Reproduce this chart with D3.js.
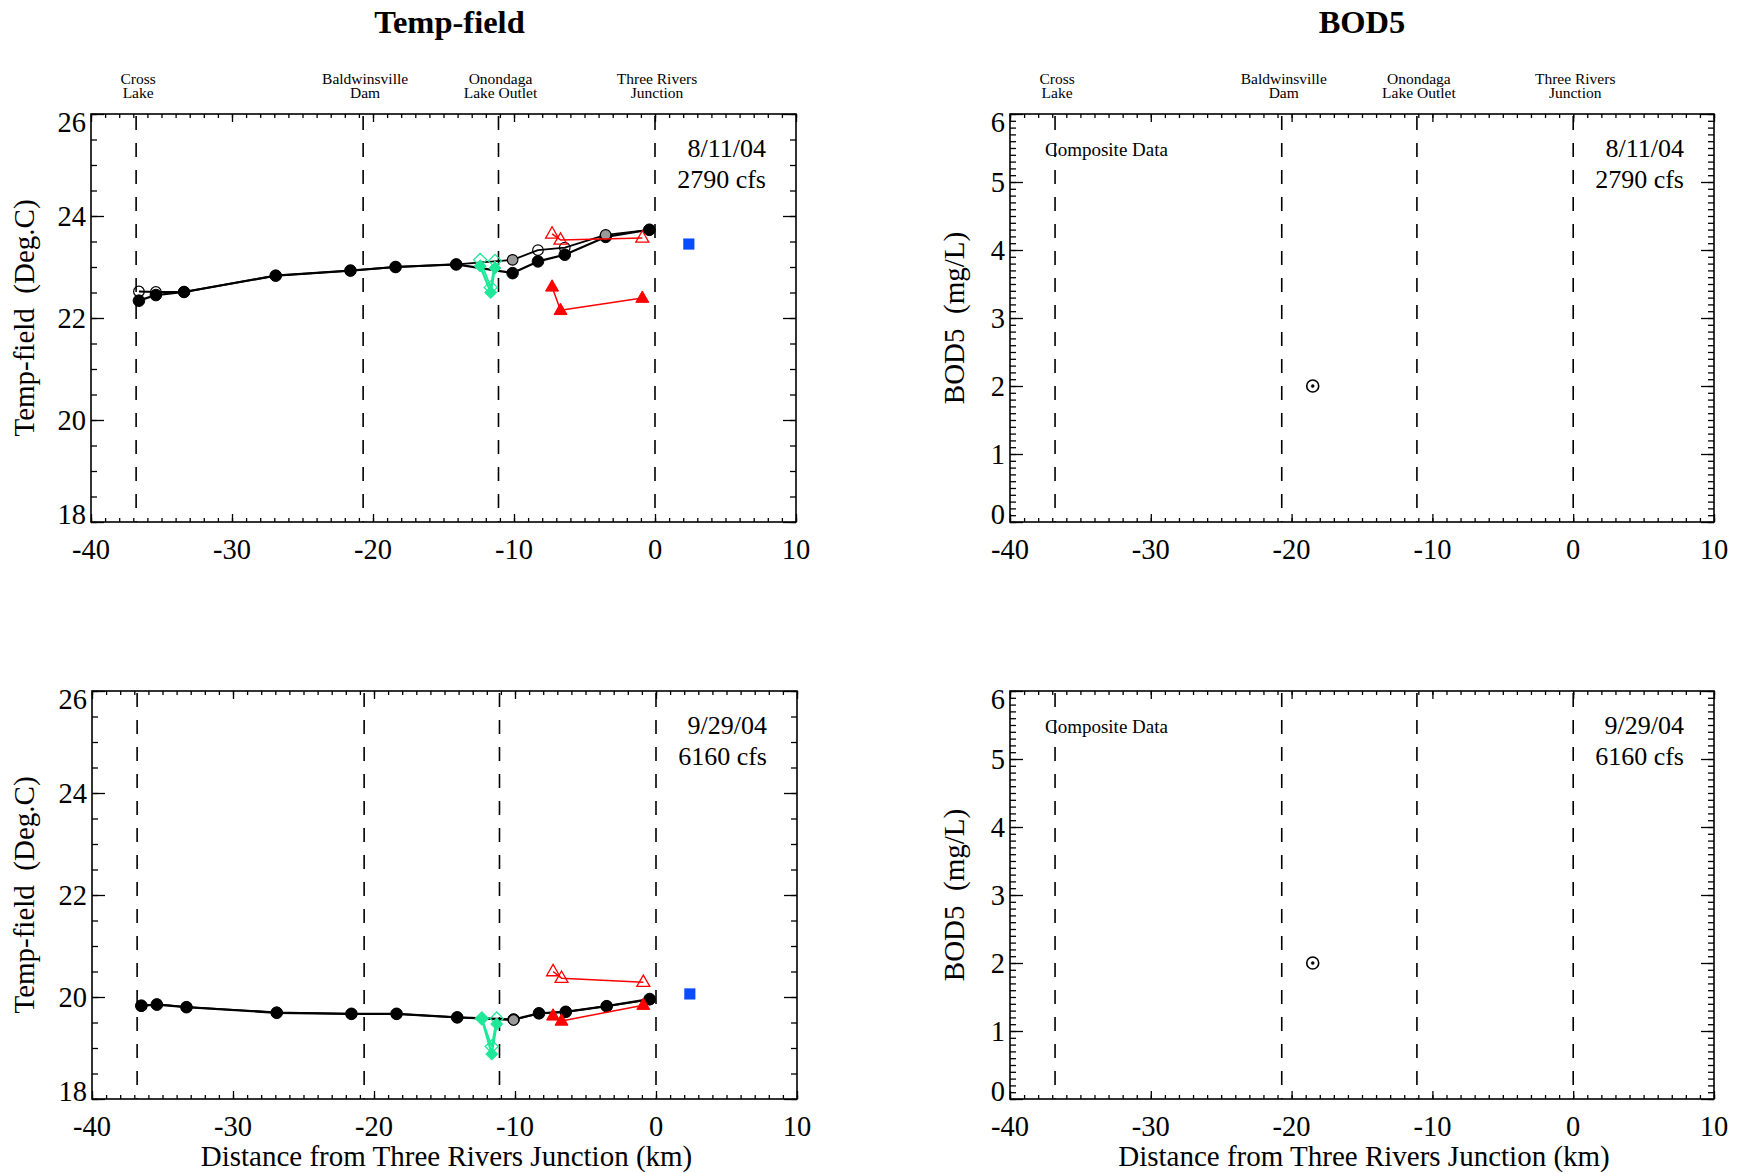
<!DOCTYPE html>
<html>
<head>
<meta charset="utf-8">
<script src="https://cdn.jsdelivr.net/npm/d3@7"></script>
<style>
  html, body { margin: 0; padding: 0; background: #fff; }
  text { font-family: "Liberation Serif", "Times New Roman", serif; fill: #000; }
</style>
</head>
<body>
<svg id="chart" width="1743" height="1173"></svg>
<script>
// ---------------- DATA ----------------
const xTicks = [-40, -30, -20, -10, 0, 10];
const tempTicks = [18, 20, 22, 24, 26];
const bodTicks = [0, 1, 2, 3, 4, 5, 6];
const landmarkNames = [["Cross", "Lake"], ["Baldwinsville", "Dam"], ["Onondaga", "Lake Outlet"], ["Three Rivers", "Junction"]];
const landmarkKm = [-36.8, -20.7, -11.1, 0];

// 8/11/04 temperature
const augMainKm   = [-36.6, -35.4, -33.4, -26.9, -21.6, -18.4, -14.1, -10.1, -8.3, -6.4, -3.5, -0.4];
const augMainTemp = [22.34, 22.45, 22.51, 22.83, 22.93, 23.00, 23.05, 22.88, 23.11, 23.24, 23.59, 23.73];
const augRepKm    = [-36.6, -35.4, -33.4, -26.9, -21.6, -18.4, -14.1, -10.1, -8.3, -6.4, -3.5, -0.4];
const augRepTemp  = [22.52, 22.51, 22.51, 22.83, 22.93, 23.00, 23.05, 23.14, 23.33, 23.38, 23.63, 23.73];
const augRepFill  = ["open", "open", "open", "open", "open", "open", "open", "gray", "open", "open", "gray", "open"];
const augGreenKm       = [-12.4, -11.65, -11.35];
const augGreenFilled   = [23.02, 22.50, 22.98];
const augGreenOpen     = [23.14, 22.60, 23.12];
const augRedKm         = [-7.3, -6.7, -0.9];
const augRedOpen       = [23.65, 23.53, 23.57];
const augRedFilled     = [22.61, 22.15, 22.39];
const augBlueKm = [2.4];
const augBlueTemp = [23.45];

// 9/29/04 temperature
const sepMainKm   = [-36.5, -35.4, -33.3, -26.9, -21.6, -18.4, -14.1, -10.1, -8.3, -6.4, -3.5, -0.45];
const sepMainTemp = [19.83, 19.85, 19.80, 19.69, 19.67, 19.67, 19.60, 19.56, 19.68, 19.71, 19.82, 19.96];
const sepRepKm    = [-36.5, -35.4, -33.3, -26.9, -21.6, -18.4, -14.1, -10.1, -8.3, -6.4, -3.5, -0.45];
const sepRepTemp  = [19.82, 19.86, 19.80, 19.70, 19.67, 19.67, 19.60, 19.55, 19.68, 19.71, 19.82, 19.95];
const sepRepFill  = ["open", "open", "open", "open", "open", "open", "open", "gray", "open", "open", "open", "open"];
const sepGreenKm     = [-12.35, -11.65, -11.3];
const sepGreenFilled = [19.57, 18.88, 19.47];
const sepGreenOpen   = [19.58, 19.03, 19.58];
const sepRedKm       = [-7.3, -6.7, -0.9];
const sepRedOpen     = [20.50, 20.37, 20.29];
const sepRedFilled   = [19.63, 19.53, 19.84];
const sepBlueKm = [2.4];
const sepBlueTemp = [20.06];

// BOD5
const augBodKm = [-18.5];
const augBod = [2.0];
const sepBodKm = [-18.5];
const sepBod = [2.0];

const dateLabels = [["8/11/04", "2790 cfs"], ["9/29/04", "6160 cfs"]];

// ---------------- DRAWING ----------------
const svg = d3.select("#chart");
const GREEN = "#1ee898", RED = "#ff0000", BLUE = "#0a4cff", GRAY = "#9a9a9a";

const diamondType = { draw(ctx, s) { ctx.moveTo(0, -s); ctx.lineTo(s, 0); ctx.lineTo(0, s); ctx.lineTo(-s, 0); ctx.closePath(); } };
const triType = { draw(ctx, s) { ctx.moveTo(0, -s * 1.1); ctx.lineTo(s, s * 0.65); ctx.lineTo(-s, s * 0.65); ctx.closePath(); } };
const squareType = { draw(ctx, s) { ctx.rect(-s, -s, 2 * s, 2 * s); } };
const circleType = { draw(ctx, s) { ctx.moveTo(s, 0); ctx.arc(0, 0, s, 0, 2 * Math.PI); } };

function panel(cfg) {
  const g = svg.append("g");
  const x = d3.scaleLinear().domain([-40, 10]).range([cfg.left, cfg.right]);
  const y = d3.scaleLinear().domain(cfg.yDomain).range([cfg.bottom, cfg.top]);

  g.append("rect").attr("x", cfg.left).attr("y", cfg.top)
    .attr("width", cfg.right - cfg.left).attr("height", cfg.bottom - cfg.top)
    .attr("fill", "none").attr("stroke", "#000").attr("stroke-width", 1.6);

  const xMinor = d3.range(-40, 10.001, 1);
  const yMinor = d3.range(cfg.yDomain[0], cfg.yDomain[1] + 1e-6, cfg.yMinorStep);

  function tickAxis(axis, transform, size, values) {
    const a = g.append("g").attr("transform", transform)
      .call(axis.tickValues(values).tickSize(size).tickFormat(""));
    a.select(".domain").remove();
    a.selectAll("line").attr("stroke", "#000").attr("stroke-width", 1.3);
  }
  tickAxis(d3.axisBottom(x), `translate(0,${cfg.bottom})`, -4, xMinor);
  tickAxis(d3.axisBottom(x), `translate(0,${cfg.bottom})`, -8, xTicks);
  tickAxis(d3.axisTop(x), `translate(0,${cfg.top})`, -4, xMinor);
  tickAxis(d3.axisTop(x), `translate(0,${cfg.top})`, -8, xTicks);
  tickAxis(d3.axisLeft(y), `translate(${cfg.left},0)`, -6, yMinor);
  tickAxis(d3.axisLeft(y), `translate(${cfg.left},0)`, -13, cfg.yTicks);
  tickAxis(d3.axisRight(y), `translate(${cfg.right},0)`, -6, yMinor);
  tickAxis(d3.axisRight(y), `translate(${cfg.right},0)`, -13, cfg.yTicks);

  g.selectAll(".xl").data(xTicks).enter().append("text")
    .attr("x", d => x(d)).attr("y", cfg.bottom + 37)
    .attr("text-anchor", "middle").attr("font-size", 28.5)
    .text(d => String(d));
  const yMin = cfg.yDomain[0], yMax = cfg.yDomain[1];
  g.selectAll(".yl").data(cfg.yTicks).enter().append("text")
    .attr("x", cfg.left - 5)
    .attr("y", d => y(d) + (d === yMax ? cfg.topShift : d === yMin ? cfg.botShift : 0))
    .attr("dy", "0.35em")
    .attr("text-anchor", "end").attr("font-size", 28.5)
    .text(d => String(d));

  g.selectAll(".lm").data(landmarkKm).enter().append("line")
    .attr("x1", d => x(d)).attr("x2", d => x(d))
    .attr("y1", cfg.top + 2).attr("y2", cfg.bottom)
    .attr("stroke", "#000").attr("stroke-width", 1.6).attr("stroke-dasharray", "14,13");

  if (cfg.showLandmarks) {
    landmarkNames.forEach((nm, i) => {
      g.append("text").attr("text-anchor", "middle").attr("font-size", 15.5)
        .attr("x", x(landmarkKm[i]) + 2).attr("y", 83.5).text(nm[0]);
      g.append("text").attr("text-anchor", "middle").attr("font-size", 15.5)
        .attr("x", x(landmarkKm[i]) + 2).attr("y", 97.5).text(nm[1]);
    });
  }
  if (cfg.title) {
    g.append("text").attr("x", (cfg.left + cfg.right) / 2 + cfg.titleDx).attr("y", 33)
      .attr("text-anchor", "middle").attr("font-size", 32.5).attr("font-weight", "bold").text(cfg.title);
  }
  g.append("text")
    .attr("transform", `translate(${cfg.yTitleX},${(cfg.top + cfg.bottom) / 2}) rotate(-90)`)
    .attr("text-anchor", "middle").attr("font-size", 29)
    .attr("xml:space", "preserve").style("white-space", "pre")
    .text(cfg.yTitle);
  if (cfg.xTitle) {
    g.append("text").attr("x", (cfg.left + cfg.right) / 2 + 2).attr("y", cfg.bottom + 67)
      .attr("text-anchor", "middle").attr("font-size", 29).text(cfg.xTitle);
  }
  g.append("text").attr("x", cfg.right - 30).attr("y", cfg.top + 43)
    .attr("text-anchor", "end").attr("font-size", 26).text(cfg.date[0]);
  g.append("text").attr("x", cfg.right - 30).attr("y", cfg.top + 74)
    .attr("text-anchor", "end").attr("font-size", 26).text(cfg.date[1]);

  if (cfg.composite) {
    g.append("text").attr("x", cfg.left + 35).attr("y", cfg.top + 42)
      .attr("font-size", 19).text("Composite Data");
  }

  const line = d3.line().x(d => x(d[0])).y(d => y(d[1]));
  const zip = (a, b) => a.map((v, i) => [v, b[i]]);
  function series(km, vals, stroke, width) {
    g.append("path").datum(zip(km, vals)).attr("d", line)
      .attr("fill", "none").attr("stroke", stroke).attr("stroke-width", width).attr("stroke-linejoin", "round");
  }
  function markers(km, vals, type, size, fill, stroke, sw) {
    const sym = d3.symbol().type(type).size(size);
    g.selectAll(null).data(zip(km, vals)).enter().append("path")
      .attr("d", sym)
      .attr("transform", d => `translate(${x(d[0])},${y(d[1])})`)
      .attr("fill", (d, i) => typeof fill === "function" ? fill(i) : fill)
      .attr("stroke", stroke).attr("stroke-width", sw);
  }

  if (cfg.temp) {
    const T = cfg.temp;
    series(T.mainKm, T.mainVal, "#000", 2.2);
    series(T.repKm, T.repVal, "#000", 1.8);
    markers(T.mainKm, T.mainVal, circleType, 5.8, "#000", "#000", 1);
    markers(T.repKm, T.repVal, circleType, 5.3, i => T.repFill[i] === "gray" ? GRAY : "none", "#000", 1.2);
    series(T.greenKm, T.greenOpen, GREEN, 1.8);
    series(T.greenKm, T.greenFilled, GREEN, 2.2);
    markers(T.greenKm, T.greenOpen, diamondType, 6.5, "none", GREEN, 1.3);
    markers(T.greenKm, T.greenFilled, diamondType, 6, GREEN, GREEN, 1);
    series(T.redKm, T.redOpen, RED, 1.5);
    series(T.redKm, T.redFilled, RED, 1.5);
    markers(T.redKm, T.redOpen, triType, 6.5, "none", RED, 1.3);
    markers(T.redKm, T.redFilled, triType, 6.5, RED, RED, 1);
    markers(T.blueKm, T.blueVal, squareType, 5.3, BLUE, BLUE, 0.5);
  }
  if (cfg.bod) {
    markers(cfg.bod.km, cfg.bod.val, circleType, 6, "none", "#000", 1.6);
    markers(cfg.bod.km, cfg.bod.val, circleType, 1.5, "#000", "#000", 0.5);
  }
}

panel({
  left: 91, right: 796, top: 114, bottom: 522, yDomain: [18, 26], yTicks: tempTicks, yMinorStep: 0.5,
  topShift: 8, botShift: -8, showLandmarks: true, title: "Temp-field", titleDx: 6,
  yTitle: "Temp-field  (Deg.C)", yTitleX: 34, date: dateLabels[0],
  temp: { mainKm: augMainKm, mainVal: augMainTemp, repKm: augRepKm, repVal: augRepTemp, repFill: augRepFill,
          greenKm: augGreenKm, greenFilled: augGreenFilled, greenOpen: augGreenOpen,
          redKm: augRedKm, redOpen: augRedOpen, redFilled: augRedFilled, blueKm: augBlueKm, blueVal: augBlueTemp }
});
panel({
  left: 1010, right: 1714, top: 114, bottom: 522, yDomain: [0, 6], yTicks: bodTicks, yMinorStep: 0.1,
  topShift: 8, botShift: -8, showLandmarks: true, title: "BOD5", titleDx: 0,
  yTitle: "BOD5  (mg/L)", yTitleX: 964, date: dateLabels[0], composite: true,
  bod: { km: augBodKm, val: augBod }
});
panel({
  left: 92, right: 797, top: 691, bottom: 1099, yDomain: [18, 26], yTicks: tempTicks, yMinorStep: 0.5,
  topShift: 8, botShift: -8, showLandmarks: false,
  yTitle: "Temp-field  (Deg.C)", yTitleX: 34, date: dateLabels[1],
  xTitle: "Distance from Three Rivers Junction (km)",
  temp: { mainKm: sepMainKm, mainVal: sepMainTemp, repKm: sepRepKm, repVal: sepRepTemp, repFill: sepRepFill,
          greenKm: sepGreenKm, greenFilled: sepGreenFilled, greenOpen: sepGreenOpen,
          redKm: sepRedKm, redOpen: sepRedOpen, redFilled: sepRedFilled, blueKm: sepBlueKm, blueVal: sepBlueTemp }
});
panel({
  left: 1010, right: 1714, top: 691, bottom: 1099, yDomain: [0, 6], yTicks: bodTicks, yMinorStep: 0.1,
  topShift: 8, botShift: -8, showLandmarks: false,
  yTitle: "BOD5  (mg/L)", yTitleX: 964, date: dateLabels[1], composite: true,
  xTitle: "Distance from Three Rivers Junction (km)",
  bod: { km: sepBodKm, val: sepBod }
});
</script>
</body>
</html>
